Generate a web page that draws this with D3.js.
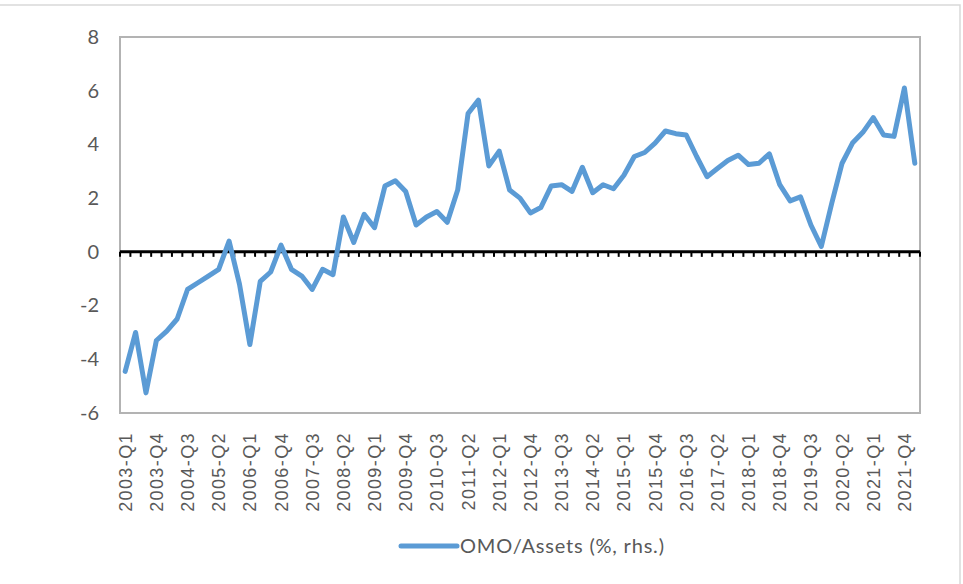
<!DOCTYPE html>
<html>
<head>
<meta charset="utf-8">
<script src="https://cdn.jsdelivr.net/npm/d3@7/dist/d3.min.js"></script>
<style>
  html, body { margin: 0; padding: 0; background: #fff; }
  svg { display: block; }
</style>
</head>
<body>
<svg id="chart" width="963" height="584"></svg>
<script>
// Quarterly categories, 2003-Q1 to 2022-Q1
const years = d3.range(2003, 2023);
const quarters = years.flatMap(y => [1, 2, 3, 4].map(q => `${y}-Q${q}`)).slice(0, 77);

// OMO / Assets (%, rhs.)
const omoAssets = [
  -4.45, -3.0, -5.25, -3.3, -2.95, -2.5, -1.4, -1.15, -0.9, -0.65,
   0.4, -1.2, -3.45, -1.1, -0.75, 0.25, -0.65, -0.9, -1.4, -0.65,
  -0.85, 1.3, 0.35, 1.4, 0.9, 2.45, 2.65, 2.25, 1.0, 1.3,
   1.5, 1.1, 2.3, 5.15, 5.65, 3.2, 3.75, 2.3, 2.0, 1.45,
   1.65, 2.45, 2.5, 2.25, 3.15, 2.2, 2.5, 2.35, 2.85, 3.55,
   3.7, 4.05, 4.5, 4.4, 4.35, 3.55, 2.8, 3.1, 3.4, 3.6,
   3.25, 3.3, 3.65, 2.5, 1.9, 2.05, 1.0, 0.2, 1.8, 3.3,
   4.05, 4.45, 5.0, 4.35, 4.3, 6.1, 3.3
];

const yTicks = [-6, -4, -2, 0, 2, 4, 6, 8];
const seriesName = "OMO/Assets (%, rhs.)";

const svg = d3.select("#chart");
const plot = { left: 120, right: 920, top: 37, bottom: 413 };

// outer chart border
svg.append("rect")
  .attr("x", -2).attr("y", 5).attr("width", 962).attr("height", 600)
  .attr("fill", "#fff").attr("stroke", "#d9d9d9").attr("stroke-width", 1.5);

const xBand = d3.scaleBand().domain(quarters).range([plot.left, plot.right]).paddingInner(0).paddingOuter(0);
const xPt = d3.scalePoint().domain(quarters).range([plot.left, plot.right]).padding(0.5);
const y = d3.scaleLinear().domain([-6, 8]).range([plot.bottom, plot.top]);

// plot area frame
svg.append("rect")
  .attr("x", plot.left).attr("y", plot.top)
  .attr("width", plot.right - plot.left).attr("height", plot.bottom - plot.top)
  .attr("fill", "none").attr("stroke", "#b3b3b3").attr("stroke-width", 2);

// value axis labels (plain hyphen for negatives)
const yAxis = d3.axisLeft(y).tickValues(yTicks).tickSize(0).tickPadding(21).tickFormat(d => String(d));
const yg = svg.append("g").attr("transform", `translate(${plot.left},0)`).call(yAxis);
yg.select(".domain").remove();
yg.selectAll("text")
  .attr("fill", "#595959")
  .style("font-family", "Lato, 'Open Sans', sans-serif")
  .style("font-size", "20px");

// category axis at zero, with tick marks between categories
const y0 = y(0);
const boundaries = quarters.map(q => xBand(q)).concat([xBand.range()[1]]);
svg.append("g").selectAll("line").data(boundaries).join("line")
  .attr("x1", d => d).attr("x2", d => d)
  .attr("y1", y0).attr("y2", y0 + 5)
  .attr("stroke", "#000").attr("stroke-width", 2);
svg.append("line")
  .attr("x1", plot.left).attr("x2", plot.right)
  .attr("y1", y0).attr("y2", y0)
  .attr("stroke", "#000").attr("stroke-width", 3);

// category labels, every third quarter, below the plot
const labelCats = quarters.filter((q, i) => i % 3 === 0 && i < 76);
svg.append("g").selectAll("text").data(labelCats).join("text")
  .attr("transform", d => `translate(${xPt(d) + 6.5},432) rotate(-90)`)
  .attr("text-anchor", "end")
  .attr("fill", "#595959")
  .style("font-family", "'Liberation Sans', Arial, sans-serif")
  .style("font-size", "18px")
  .style("letter-spacing", "1.4px")
  .text(d => d);

// series line
const line = d3.line().x((d, i) => xPt(quarters[i])).y(d => y(d));
svg.append("path")
  .datum(omoAssets)
  .attr("d", line)
  .attr("fill", "none")
  .attr("stroke", "#5B9BD5")
  .attr("stroke-width", 5)
  .attr("stroke-linejoin", "round")
  .attr("stroke-linecap", "round");

// legend
const lg = svg.append("g").attr("transform", "translate(401,546)");
lg.append("line").attr("x1", 0).attr("x2", 56).attr("y1", 0).attr("y2", 0)
  .attr("stroke", "#5B9BD5").attr("stroke-width", 5).attr("stroke-linecap", "round");
lg.append("text").attr("x", 59).attr("y", 7)
  .attr("fill", "#595959")
  .style("font-family", "Lato, 'Open Sans', sans-serif")
  .style("font-size", "20px")
  .style("letter-spacing", "0.8px")
  .text(seriesName);
</script>
</body>
</html>
